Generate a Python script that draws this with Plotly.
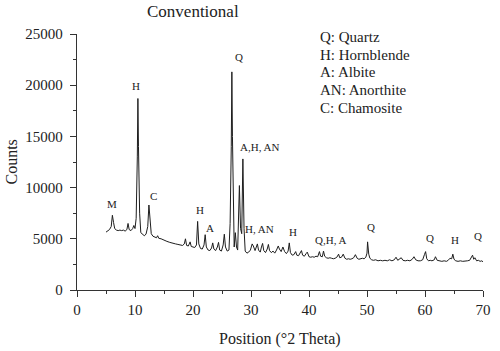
import plotly.graph_objects as go

# ---- data ----
two_theta = [
    5.0, 5.3, 5.6, 5.9, 6.1, 6.3, 6.5, 6.8, 7.1, 7.4, 7.7, 8.0, 8.3, 8.6, 8.8, 9.0, 9.3, 9.6, 9.8, 10.0,
    10.2, 10.4, 10.5, 10.6, 10.8, 11.0, 11.3, 11.6, 11.9, 12.2, 12.4, 12.6, 12.8, 13.1, 13.4, 13.7, 13.9,
    14.1, 14.5, 15.0, 15.5, 16.0, 16.5, 17.0, 17.4, 17.8, 18.2, 18.5, 18.7, 18.9, 19.2, 19.5, 19.7, 20.0,
    20.3, 20.6, 20.8, 21.0, 21.3, 21.6, 21.9, 22.1, 22.3, 22.6, 22.9, 23.2, 23.4, 23.6, 23.9, 24.2, 24.4,
    24.6, 24.9, 25.2, 25.4, 25.6, 25.9, 26.2, 26.4, 26.6, 26.7, 26.8, 27.0, 27.1, 27.3, 27.5, 27.7, 27.9,
    28.0, 28.2, 28.4, 28.6, 28.8, 29.0, 29.3, 29.6, 29.9, 30.2, 30.4, 30.7, 30.9, 31.1, 31.3, 31.6, 31.8,
    32.0, 32.2, 32.5, 32.8, 33.0, 33.2, 33.5, 33.8, 34.1, 34.4, 34.7, 34.9, 35.2, 35.5, 35.8, 36.1, 36.4,
    36.6, 36.8, 37.1, 37.4, 37.7, 37.9, 38.2, 38.5, 38.7, 38.9, 39.2, 39.5, 39.7, 40.0, 40.3, 40.6, 40.9,
    41.2, 41.5, 41.8, 42.0, 42.3, 42.5, 42.7, 43.0, 43.3, 43.6, 43.9, 44.2, 44.5, 44.8, 45.1, 45.3, 45.6,
    45.9, 46.2, 46.5, 46.8, 47.1, 47.4, 47.7, 48.0, 48.3, 48.6, 48.9, 49.2, 49.5, 49.8, 50.0, 50.1, 50.3,
    50.5, 50.8, 51.1, 51.5, 51.9, 52.3, 52.7, 53.1, 53.5, 53.9, 54.3, 54.7, 55.0, 55.3, 55.6, 55.9, 56.2,
    56.6, 57.0, 57.4, 57.8, 58.1, 58.4, 58.8, 59.2, 59.6, 59.9, 60.1, 60.3, 60.6, 60.9, 61.2, 61.6, 61.8,
    62.1, 62.5, 62.9, 63.3, 63.7, 64.0, 64.3, 64.6, 64.8, 65.0, 65.3, 65.7, 66.1, 66.5, 66.9, 67.3, 67.7,
    68.0, 68.2, 68.4, 68.6, 68.9, 69.2, 69.5, 69.8, 70.0,
]
counts = [
    5650, 5750, 5900, 6200, 7300, 6600, 6000, 5850, 5800, 5850, 5800, 5850, 5750, 5900, 6500, 5900, 5800, 6000, 6300, 6000,
    7000, 13000, 18700, 14000, 7500, 5600, 5400, 5300, 5450, 6200, 8300, 6500, 5500, 5250, 5150, 5100, 5300,
    5050, 5000, 4850, 4750, 4650, 4550, 4500, 4450, 4400, 4350, 4500, 5000, 4350, 4300, 4700, 4250, 4200,
    4150, 4400, 6700, 4500, 4050, 4000, 4400, 5400, 4200, 3900, 3850, 4100, 4600, 4000, 3850, 4200, 4650,
    3900, 3800, 4400, 5450, 4200, 3800, 3900, 6500, 14000, 21300, 15000, 6500, 4200, 5600, 4200, 3900, 7500,
    10200, 6000, 5500, 12800, 6000, 3800, 3600, 3700, 3900, 4500, 4300, 3850, 4100, 4500, 3900, 3700, 4200,
    4550, 3850, 3650, 4000, 4450, 3850, 3650, 3800, 3600, 3900, 4300, 4000, 3750, 4200, 3750, 3550, 3800,
    4600, 3650, 3400, 3450, 3750, 3400, 3350, 3650, 3850, 3400, 3300, 3550, 3700, 3250, 3200, 3250, 3200,
    3300, 3250, 3750, 3300, 3250, 3800, 3300, 3150, 3100, 3150, 3100, 3050, 3100, 3200, 3500, 3150, 3200,
    3500, 3100, 3000, 3050, 3000, 3050, 3150, 3450, 3100, 3000, 3050, 3100, 3050, 3200, 3600, 4700, 3500,
    3100, 2950, 2900, 2950, 2850, 2900, 2850, 2900, 2850, 2950, 2850, 2950, 3200, 2900, 3000, 3150, 2900,
    2850, 2900, 2850, 3000, 3250, 2950, 2850, 2850, 2950, 3450, 3750, 3050, 2850, 2900, 2850, 2950, 3250,
    2900, 2850, 2800, 2850, 2800, 2900, 3100, 3050, 3500, 3000, 2850, 2800, 2850, 2800, 2800, 2850, 2900,
    3150, 3400, 3000, 3150, 2850, 2900, 2800, 2850, 2750,
]

peak_labels = ["M", "H", "C", "H", "A", "Q", "A,H, AN", "H, AN", "H", "Q,H, A", "Q", "Q", "H", "Q"]
peak_label_x = [6.1, 10.1, 13.2, 21.2, 23.0, 27.9, 31.5, 31.5, 37.3, 43.8, 50.7, 60.9, 65.1, 69.1]
peak_label_y = [8400, 19950, 9180, 7860, 6060, 22730, 14000, 5960, 5620, 4880, 6120, 5050, 4880, 5270]

phase_key = ["Q: Quartz", "H: Hornblende", "A: Albite", "AN: Anorthite", "C: Chamosite"]

x_ticks = [0, 10, 20, 30, 40, 50, 60, 70]
y_ticks = [0, 5000, 10000, 15000, 20000, 25000]
y_tick_text = ["0", "5000", "10000", "15000", "20000", "25000"]

FONT = "Liberation Serif, Times New Roman, serif"
INK = "#222222"

fig = go.Figure()
fig.add_trace(go.Scatter(x=two_theta, y=counts, mode="lines",
                         line=dict(color="#1e1e1e", width=1), showlegend=False,
                         hoverinfo="skip"))

annotations = []
for t, x, y in zip(peak_labels, peak_label_x, peak_label_y):
    annotations.append(dict(x=x, y=y, xref="x", yref="y", text=t, showarrow=False,
                            font=dict(family=FONT, size=11, color=INK),
                            xanchor="center", yanchor="middle"))

# phase key block (top right)
key_rows_py = [37, 54.5, 72, 90, 108]
for t, py in zip(phase_key, key_rows_py):
    annotations.append(dict(x=(323 - 77) / 413.7, y=(290 - py) / 256.5, xref="paper", yref="paper",
                            text=t, showarrow=False, xanchor="left", yanchor="middle",
                            font=dict(family=FONT, size=15, color=INK)))

# title
annotations.append(dict(x=(195 - 77) / 413.7, y=(290 - 11) / 256.5, xref="paper", yref="paper",
                        text="Conventional", showarrow=False, xanchor="center", yanchor="middle",
                        font=dict(family=FONT, size=17, color=INK)))
# axis titles
annotations.append(dict(x=(10 - 77) / 413.7, y=(290 - 162) / 256.5, xref="paper", yref="paper",
                        text="Counts", showarrow=False, textangle=-90, xanchor="center",
                        yanchor="middle", font=dict(family=FONT, size=16, color=INK)))
annotations.append(dict(x=(283.5 - 77) / 413.7, y=(290 - 339) / 256.5, xref="paper", yref="paper",
                        text="Position (°2 Theta)", showarrow=False, xanchor="center",
                        yanchor="middle", font=dict(family=FONT, size=16, color=INK)))

axis_common = dict(showgrid=False, zeroline=False, showline=True, linecolor="#333333",
                   linewidth=1.3, ticks="outside", tickcolor="#333333", tickwidth=1.3,
                   ticklen=6, tickfont=dict(family=FONT, size=15, color=INK))

fig.update_layout(
    width=500, height=351,
    margin=dict(l=77, r=9, t=33.5, b=61),
    paper_bgcolor="white", plot_bgcolor="white",
    xaxis=dict(range=[0, 70], tickvals=x_ticks,
               minor=dict(dtick=5, ticklen=3, tickwidth=1.2, tickcolor="#333333", ticks="outside"),
               **axis_common),
    yaxis=dict(range=[0, 25000], tickvals=y_ticks, ticktext=y_tick_text, ticklabelstandoff=4,
               minor=dict(dtick=2500, ticklen=3, tickwidth=1.2, tickcolor="#333333", ticks="outside"),
               **axis_common),
    annotations=annotations,
)

fig.write_html("out.html")
